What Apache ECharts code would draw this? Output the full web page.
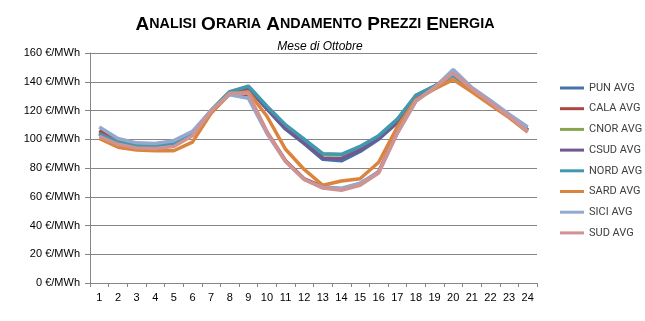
<!DOCTYPE html>
<html>
<head>
<meta charset="utf-8">
<script src="https://cdn.jsdelivr.net/npm/echarts@6/dist/echarts.min.js"></script>
<style>html,body{margin:0;padding:0;background:#fff;}#c{width:645px;height:321px;}</style>
</head>
<body>
<div id="c"></div>
<script>
const hours = ['1','2','3','4','5','6','7','8','9','10','11','12','13','14','15','16','17','18','19','20','21','22','23','24'];
const yTicks = [0, 20, 40, 60, 80, 100, 120, 140, 160];
const seriesNames = ['PUN AVG','CALA AVG','CNOR AVG','CSUD AVG','NORD AVG','SARD AVG','SICI AVG','SUD AVG'];
const pun  = [104, 97.5, 95, 94.5, 96.5, 103.5, 119.5, 132.5, 135.5, 121, 107, 97, 86, 85, 91.5, 100, 111.5, 129, 136.5, 145, 134.5, 125, 116, 106.5];
const cala = [106, 98.5, 96, 95.5, 97.5, 104, 119.5, 132, 131, 105, 85, 72.5, 67, 65.5, 69, 77.5, 105, 127, 136.5, 145.5, 134.5, 125, 116, 106];
const cnor = [104, 98, 95.5, 95, 97, 104, 120, 133, 136.5, 122.5, 109.5, 99.5, 89.5, 89, 94.5, 102, 113.5, 130.5, 137, 144.5, 134.5, 125, 116, 106.5];
const csud = [104, 97.5, 95, 94.5, 96.5, 103.5, 119.5, 132.5, 135.5, 121.5, 107.5, 97.5, 87, 86.5, 92.5, 101, 112, 129.5, 136.5, 145, 134.5, 125, 116, 106.5];
const nord = [103.5, 98, 95.5, 95, 97, 104, 120, 133, 137, 123, 110, 100, 90, 89.5, 95, 102.5, 114, 130.5, 137, 144.5, 134.5, 125, 116, 106.5];
const sard = [100.5, 94.5, 92.5, 92, 92, 98, 118, 131.5, 133, 116, 93, 79, 68, 71, 72.5, 84, 108.5, 127.5, 135, 141.5, 133, 124, 115, 105];
const sici = [108.5, 100.5, 97.5, 97, 99, 105.5, 120, 131, 128.5, 104, 84.5, 72, 66.5, 66, 69.5, 77, 104, 126.5, 136, 148.5, 136, 127, 117.5, 108.5];
const sud  = [102, 96.5, 94, 93.5, 95, 102.5, 119.5, 132, 132, 105, 84.5, 72, 66, 64.5, 68, 76.5, 104.5, 126.5, 136, 146, 135, 125.5, 116, 105.5];

const seriesData = [pun, cala, cnor, csud, nord, sard, sici, sud];
const colors = ['#4672A8','#AA4643','#89A54E','#71588F','#4198AF','#DB843D','#93A9CF','#D19392'];

const chart = echarts.init(document.getElementById('c'), null, {renderer: 'canvas'});
const font = 'Liberation Sans';
chart.setOption({
  animation: false,
  backgroundColor: '#ffffff',
  color: colors,
  title: [{
    text: '{b|A}{s|NALISI} {b|O}{s|RARIA} {b|A}{s|NDAMENTO} {b|P}{s|REZZI} {b|E}{s|NERGIA}',
    left: 310, top: 10, textAlign: 'center',
    textStyle: {
      rich: {
        b: {fontFamily: font, fontWeight: 'bold', fontSize: 19, color: '#000'},
        s: {fontFamily: font, fontWeight: 'bold', fontSize: 14.3, color: '#000'}
      }
    }
  }, {
    text: 'Mese di Ottobre',
    left: 315, top: 36, textAlign: 'center',
    textStyle: {fontFamily: font, fontStyle: 'italic', fontWeight: 'normal', fontSize: 12, color: '#000'}
  }],
  legend: {
    orient: 'vertical', left: 560, top: 81, padding: 0,
    itemWidth: 24, itemHeight: 3, itemGap: 6.7,
    icon: 'rect',
    textStyle: {fontFamily: 'Roboto', fontSize: 11, color: '#404040', lineHeight: 14},
    data: seriesNames
  },
  grid: {left: 90, right: 108, top: 53, bottom: 38, containLabel: false},
  xAxis: {
    type: 'category', data: hours, boundaryGap: true,
    axisLine: {show: true, lineStyle: {color: '#868686', width: 1}},
    axisTick: {show: true, length: 4, interval: 0, lineStyle: {color: '#868686'}},
    axisLabel: {fontFamily: font, fontSize: 11, color: '#000', margin: 9, interval: 0}
  },
  yAxis: {
    type: 'value', min: yTicks[0], max: yTicks[yTicks.length - 1], interval: 20,
    axisLine: {show: true, lineStyle: {color: '#868686', width: 1}},
    axisTick: {show: true, length: 5, lineStyle: {color: '#868686'}},
    splitLine: {show: true, lineStyle: {color: '#868686', width: 1}},
    axisLabel: {fontFamily: font, fontSize: 11, color: '#000', margin: 10, formatter: '{value} €/MWh'}
  },
  series: seriesNames.map((n, i) => ({
    name: n, type: 'line', data: seriesData[i],
    showSymbol: false, symbol: 'none', smooth: false,
    lineStyle: {width: 3.5, color: colors[i]},
    itemStyle: {color: colors[i]}
  }))
});
</script>
</body>
</html>
